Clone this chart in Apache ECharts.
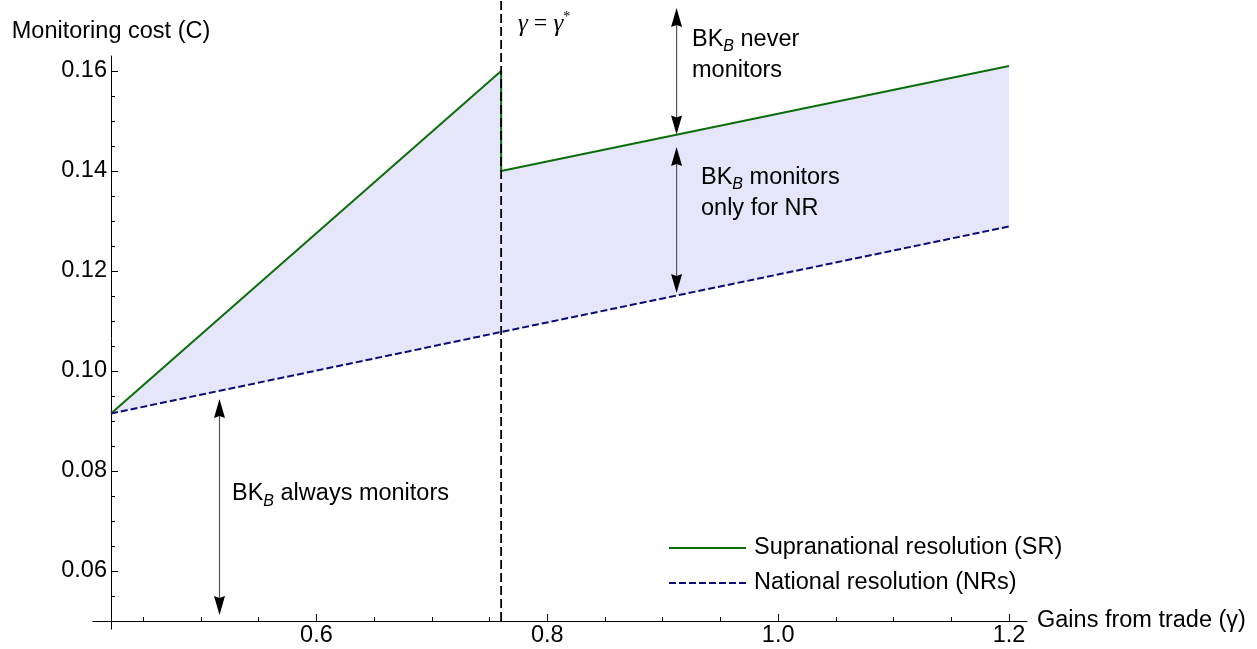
<!DOCTYPE html>
<html>
<head>
<meta charset="utf-8">
<script src="https://cdn.jsdelivr.net/npm/echarts@6/dist/echarts.min.js"></script>
<style>html,body{margin:0;padding:0;background:#fff}#c{width:1257px;height:649px}</style>
</head>
<body>
<div id="c"></div>
<script>
// ---- data ----
const gammaStar = 0.76;
const xRange = [0.422, 1.2156];
const yRange = [0.05, 0.163];
const lineTop = 0.1742;           // dashed marker reaches the top of the figure
const srX = [0.422, 0.76, 0.76, 1.2];
const srY = [0.0915, 0.16, 0.14, 0.161];
const nrX = [0.422, 0.76, 1.2];
const nrY = [0.0915, 0.1078, 0.1289];
const xTickLabels = [0.6, 0.8, 1.0, 1.2];
const xMinorTicks = [0.45, 0.5, 0.55, 0.65, 0.7, 0.75, 0.85, 0.9, 0.95, 1.05, 1.1, 1.15];
const yTickLabels = [0.06, 0.08, 0.10, 0.12, 0.14, 0.16];
const yMinorTicks = [0.055, 0.065, 0.07, 0.075, 0.085, 0.09, 0.095, 0.105, 0.11, 0.115, 0.125, 0.13, 0.135, 0.145, 0.15, 0.155];
const arrowX = [0.912, 0.912, 0.516];
const arrowFrom = [0.1726, 0.1448, 0.0944];
const arrowTo = [0.1473, 0.1156, 0.0512];
const srName = 'Supranational resolution (SR)';
const nrName = 'National resolution (NRs)';

const FONT = '"Liberation Sans", Arial, Helvetica, sans-serif';
const SERIF = '"Liberation Serif", "DejaVu Serif", serif';
const FS = 23.5;
const green = '#0a6e0a';
const navy = '#0c0c78';

const chart = echarts.init(document.getElementById('c'), null, {renderer: 'canvas'});

const baseX = {type: 'value', min: xRange[0], max: xRange[1], position: 'bottom', splitLine: {show: false}};
const baseY = {type: 'value', min: yRange[0], max: yRange[1], position: 'left', splitLine: {show: false}};

const subRich = {
  t: {fontFamily: FONT, fontSize: FS, fill: '#000', lineHeight: 31},
  b: {fontFamily: FONT, fontSize: 16, fontStyle: 'italic', fill: '#000', verticalAlign: 'bottom', lineHeight: 17}
};

const option = {
  animation: false,
  backgroundColor: '#fff',
  grid: {left: 111, right: 230, top: 56, bottom: 28, containLabel: false},
  xAxis: [
    Object.assign({}, baseX, {
      axisLine: {show: true, lineStyle: {color: '#000', width: 1}},
      axisTick: {show: true, inside: true, length: 4, lineStyle: {color: '#000'}, customValues: xMinorTicks},
      axisLabel: {show: false},
      name: 'Gains from trade (γ)', nameLocation: 'end', nameGap: 10,
      nameTextStyle: {fontFamily: FONT, fontSize: FS, color: '#000', padding: [4, 0, 0, 0]}
    }),
    Object.assign({}, baseX, {
      axisLine: {show: false},
      axisTick: {show: true, inside: true, length: 7, lineStyle: {color: '#000'}, customValues: xTickLabels},
      axisLabel: {show: true, customValues: xTickLabels, margin: 3, fontFamily: FONT, fontSize: FS, color: '#000',
        formatter: v => Number(v).toFixed(1)}
    })
  ],
  yAxis: [
    Object.assign({}, baseY, {
      axisLine: {show: true, lineStyle: {color: '#000', width: 1}},
      axisTick: {show: true, inside: true, length: 4, lineStyle: {color: '#000'}, customValues: yMinorTicks},
      axisLabel: {show: false},
      name: 'Monitoring cost (C)', nameLocation: 'end', nameGap: 12,
      nameTextStyle: {fontFamily: FONT, fontSize: FS, color: '#000'}
    }),
    Object.assign({}, baseY, {
      axisLine: {show: false},
      axisTick: {show: true, inside: true, length: 7, lineStyle: {color: '#000'}, customValues: yTickLabels},
      axisLabel: {show: true, customValues: yTickLabels, margin: 4, fontFamily: FONT, fontSize: FS, color: '#000',
        formatter: v => Number(v).toFixed(2)}
    })
  ],
  legend: {
    data: [srName, nrName],
    orient: 'vertical', left: 668, top: 536, padding: 0,
    itemWidth: 77, itemHeight: 14, itemGap: 11,
    itemStyle: {opacity: 0},
    textStyle: {fontFamily: FONT, fontSize: FS, color: '#000', padding: [0, 0, 0, 3]},
    selectedMode: false
  },
  series: [
    {
      type: 'custom', name: 'region', z: 1, clip: false,
      data: [[srX[0], srY[0]]],
      renderItem: function (params, api) {
        const pts = [];
        for (let i = 0; i < srX.length; i++) pts.push(api.coord([srX[i], srY[i]]));
        for (let i = nrX.length - 1; i >= 0; i--) pts.push(api.coord([nrX[i], nrY[i]]));
        return {type: 'polygon', shape: {points: pts}, style: {fill: '#e6e6fa', stroke: null}};
      }
    },
    {
      type: 'custom', name: 'axisExt', z: 2, clip: false,
      data: [[xRange[0], yRange[0]]],
      renderItem: function (params, api) {
        const o = api.coord([api.value(0), api.value(1)]);
        const x = Math.round(o[0]) + 0.5, y = Math.round(o[1]) + 0.5;
        return {type: 'group', children: [
          {type: 'line', shape: {x1: x - 19, y1: y, x2: x, y2: y}, style: {stroke: '#000', lineWidth: 1}},
          {type: 'line', shape: {x1: x, y1: y, x2: x, y2: y + 8}, style: {stroke: '#000', lineWidth: 1}}
        ]};
      }
    },
    {
      type: 'line', name: srName, z: 3, data: srX.map((x, i) => [x, srY[i]]),
      showSymbol: false, symbol: 'none', color: green,
      lineStyle: {color: green, width: 2}
    },
    {
      type: 'line', name: nrName, z: 3, data: nrX.map((x, i) => [x, nrY[i]]),
      showSymbol: false, symbol: 'none', color: navy,
      lineStyle: {color: navy, width: 2, type: [7, 3]}
    },
    {
      type: 'line', name: 'gammaStar', z: 4, clip: false,
      data: [[gammaStar, yRange[0]], [gammaStar, lineTop]],
      showSymbol: false, symbol: 'none',
      lineStyle: {color: '#000', width: 1.8, type: [9, 4]}
    },
    {
      type: 'custom', name: 'arrows', z: 5, clip: false,
      data: arrowX.map((x, i) => [x, arrowFrom[i], arrowTo[i]]),
      renderItem: function (params, api) {
        const a = api.coord([api.value(0), api.value(1)]);
        const b = api.coord([api.value(0), api.value(2)]);
        const L = 19, W = 5.5, N = 2;
        function head(tip, dir) { // dir: +1 pointing down, -1 pointing up
          return {type: 'polygon', shape: {points: [
            [tip[0], tip[1]],
            [tip[0] - W, tip[1] - dir * L],
            [tip[0], tip[1] - dir * (L - N)],
            [tip[0] + W, tip[1] - dir * L]
          ]}, style: {fill: '#000', stroke: null}};
        }
        const dir = b[1] > a[1] ? 1 : -1;
        return {type: 'group', children: [
          {type: 'line', shape: {x1: a[0], y1: a[1] + dir * 10, x2: b[0], y2: b[1] - dir * 10},
            style: {stroke: '#555', lineWidth: 1.2}},
          head(a, -dir),
          head(b, dir)
        ]};
      }
    }
  ],
  graphic: [
    {type: 'text', x: 518, y: 24, z: 100, style: {
      text: '{g|γ}{e| = }{g|γ}{s|*}', textVerticalAlign: 'middle',
      rich: {
        g: {fontFamily: SERIF, fontStyle: 'italic', fontSize: 25, fill: '#000'},
        e: {fontFamily: SERIF, fontSize: 24, fill: '#000'},
        s: {fontFamily: SERIF, fontSize: 14, fill: '#000', verticalAlign: 'top', lineHeight: 28}
      }
    }},
    {type: 'text', x: 692, y: 24, z: 100, style: {
      text: '{t|BK}{b|B}{t| never}\n{t|monitors}', textVerticalAlign: 'top', rich: subRich
    }},
    {type: 'text', x: 701, y: 162, z: 100, style: {
      text: '{t|BK}{b|B}{t| monitors}\n{t|only for NR}', textVerticalAlign: 'top', rich: subRich
    }},
    {type: 'text', x: 232, y: 494, z: 100, style: {
      text: '{t|BK}{b|B}{t| always monitors}', textVerticalAlign: 'middle', rich: subRich
    }}
  ]
};
chart.setOption(option);
</script>
</body>
</html>
